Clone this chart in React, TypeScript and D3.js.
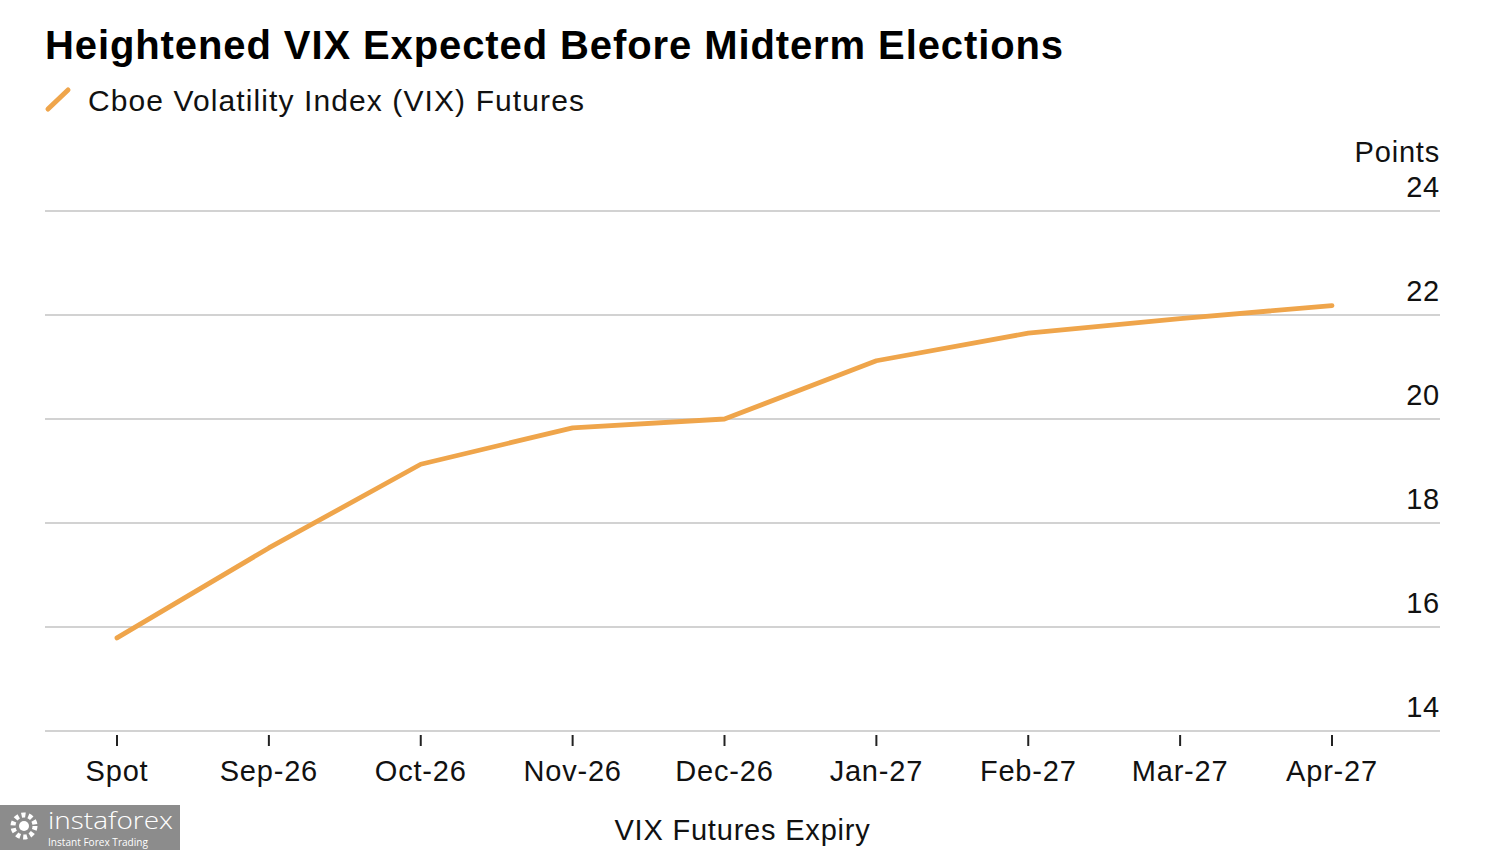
import React from "react";
import * as d3 from "d3";

const categories = ["Spot", "Sep-26", "Oct-26", "Nov-26", "Dec-26", "Jan-27", "Feb-27", "Mar-27", "Apr-27"];
const vixValues = [15.79, 17.52, 19.13, 19.83, 20.0, 21.12, 21.65, 21.93, 22.18];
const yTicks = [14, 16, 18, 20, 22, 24];

const title = "Heightened VIX Expected Before Midterm Elections";
const seriesName = "Cboe Volatility Index (VIX) Futures";
const yUnit = "Points";
const xTitle = "VIX Futures Expiry";

const W = 1500;
const H = 850;
const FONT = "'Liberation Sans', Arial, Helvetica, sans-serif";
const LINE_COLOR = "#EFA54B";
const LS = 0.8;

export default function App() {
  const plotLeft = 45;
  const plotRight = 1440;
  const x = d3.scalePoint<string>().domain(categories).range([117, 1332]);
  const y = d3.scaleLinear().domain([14, 24]).range([731, 211]);
  const data = categories.map((c, i) => ({ c, v: vixValues[i] }));
  const line = d3
    .line<{ c: string; v: number }>()
    .x((d) => x(d.c) as number)
    .y((d) => y(d.v));

  return (
    <svg
      width={W}
      height={H}
      style={{ position: "absolute", left: 0, top: 0, background: "#fff" }}
      fontFamily={FONT}
    >
      <rect x={0} y={0} width={W} height={H} fill="#fff" />
      <text x={45} y={59} fontSize={40} fontWeight="bold" fill="#000" letterSpacing={0.9}>
        {title}
      </text>
      <line x1={48} y1={109} x2={68} y2={90} stroke={LINE_COLOR} strokeWidth={5} strokeLinecap="round" />
      <text x={88} y={111} fontSize={30} fill="#111" letterSpacing={1.1}>
        {seriesName}
      </text>
      <text x={plotRight} y={162} fontSize={29} textAnchor="end" fill="#111" letterSpacing={LS}>
        {yUnit}
      </text>

      {yTicks.map((t) => (
        <g key={t}>
          <line x1={plotLeft} x2={plotRight} y1={y(t)} y2={y(t)} stroke="#d2d2d2" strokeWidth={2} />
          <text x={plotRight} y={y(t) - 14} fontSize={29} textAnchor="end" fill="#111" letterSpacing={LS}>
            {t}
          </text>
        </g>
      ))}

      {categories.map((c) => (
        <g key={c}>
          <line x1={x(c)} x2={x(c)} y1={735} y2={746} stroke="#222" strokeWidth={2} />
          <text x={x(c)} y={781} fontSize={29} textAnchor="middle" fill="#111" letterSpacing={LS}>
            {c}
          </text>
        </g>
      ))}

      <path d={line(data) || ""} fill="none" stroke={LINE_COLOR} strokeWidth={4.8} strokeLinejoin="round" strokeLinecap="round" />

      <text x={(plotLeft + plotRight) / 2} y={840} fontSize={29} textAnchor="middle" fill="#111" letterSpacing={LS}>
        {xTitle}
      </text>

      <g>
        <rect x={0} y={805} width={180} height={45} fill="#8c8c8c" />
        <circle cx={24} cy={826} r={11} fill="none" stroke="#fff" strokeWidth={5} strokeDasharray="4 3" />
        <circle cx={24} cy={826} r={5} fill="#fff" />
        <text x={48} y={829} fontSize={23} fill="#fff" fontFamily="'Open Sans', sans-serif" fontWeight={300} textLength={125} lengthAdjust="spacingAndGlyphs">
          instaforex
        </text>
        <text x={48} y={846} fontSize={10} fill="#fff" fontFamily="'Open Sans', sans-serif" textLength={100} lengthAdjust="spacingAndGlyphs">
          Instant Forex Trading
        </text>
      </g>
    </svg>
  );
}
